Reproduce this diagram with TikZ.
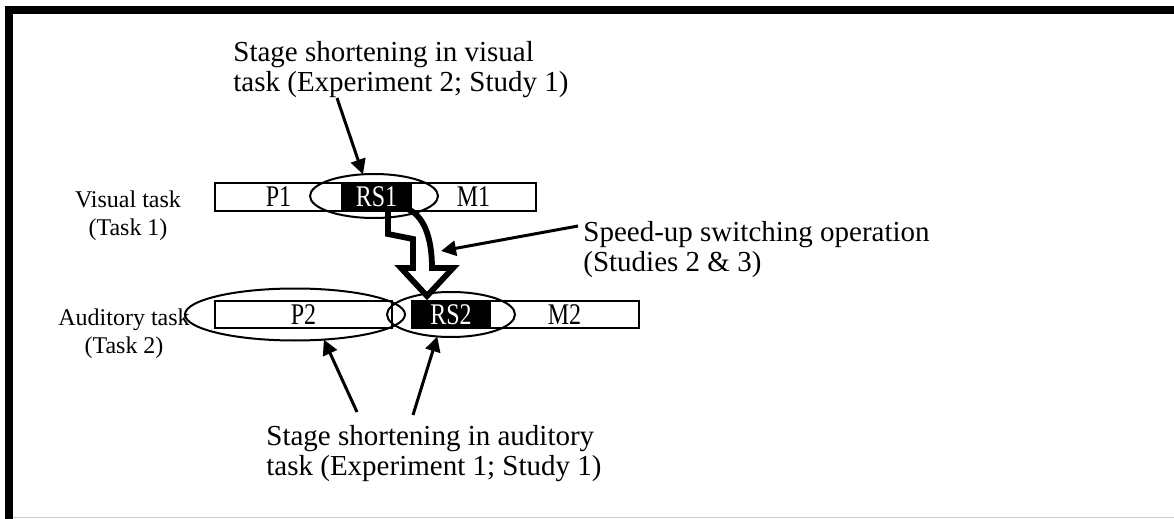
\documentclass[tikz,border=0pt]{standalone}
\usepackage{fontspec}
\usepackage{graphicx}
\setmainfont{Liberation Serif}
\usetikzlibrary{shapes.geometric,arrows.meta}
\newcommand{\tallbox}[1]{\scalebox{1}[1.25]{#1}}
\begin{document}
\begin{tikzpicture}[x=0.5pt,y=-0.5pt,
  stagebox/.style={draw=black,line width=0.9pt,inner sep=0pt,outer sep=0pt,font=\fontsize{12}{14}\selectfont},
  blackbox/.style={stagebox,fill=black,text=white},
  hilite/.style={draw=black,line width=1pt,ellipse,inner sep=0pt,outer sep=0pt},
  pointer/.style={line width=1.5pt,-{Triangle[length=7.5pt,width=7.5pt]}},
  biglabel/.style={anchor=base west,inner sep=0pt,font=\fontsize{14.5}{15}\selectfont},
  tasklabel/.style={anchor=base,inner sep=0pt,font=\fontsize{12}{14}\selectfont},
  hollow/.style={draw=black,fill=white,line width=2.9pt,line join=miter,miter limit=10}]
\useasboundingbox (0,0) rectangle (1174,519);
% frame
\fill[black] (5,6) rectangle (1174,14);
\fill[black] (5,6) rectangle (13,519);
\draw[gray!40,line width=0.75pt] (13,517.5) -- (1174,517.5);

% task labels
\node[tasklabel] (vt) at (128,207) {\begin{tabular}[t]{@{}c@{}}Visual task\\(Task 1)\end{tabular}};
\node[tasklabel] (at) at (124,325) {\begin{tabular}[t]{@{}c@{}}Auditory task\\(Task 2)\end{tabular}};

% hollow switching arrow
\draw[hollow] (388,208) -- (388,234) -- (413,239) -- (413,268) -- (401,268) -- (427,296) -- (453,268) -- (432,268)
  .. controls (432,238) and (424,214) .. (405,208) -- cycle;

% task 1 stages
\node[stagebox,minimum width=63.5pt,minimum height=14pt] (p1) at (278.5,197) {\tallbox{P1}};
\node[blackbox,minimum width=34.5pt,minimum height=14pt] (rs1) at (376.5,197) {\tallbox{RS1}};
\node[stagebox,minimum width=62.5pt,minimum height=14pt] (m1) at (473.5,197) {\tallbox{M1}};

% task 2 stages
\node[stagebox,minimum width=88.5pt,minimum height=13.5pt] (p2) at (303.5,314.5) {\tallbox{P2}};
\node[blackbox,minimum width=39pt,minimum height=13.5pt] (rs2) at (451,314.5) {\tallbox{RS2}};
\node[stagebox,minimum width=74.5pt,minimum height=13.5pt] (m2) at (564.5,314.5) {\tallbox{M2}};

% highlight ellipses
\node[hilite,minimum width=64pt,minimum height=22pt] (e1) at (374,196) {};
\node[hilite,minimum width=110pt,minimum height=26pt] (e2) at (295,314.5) {};
\node[hilite,minimum width=64pt,minimum height=22.5pt] (e3) at (451,314.5) {};

% labels
\node[biglabel] (ltop) at (233,62) {\begin{tabular}[t]{@{}l@{}}Stage shortening in visual\\task (Experiment 2; Study 1)\end{tabular}};
\node[biglabel] (lsw) at (583,242) {\begin{tabular}[t]{@{}l@{}}Speed-up switching operation\\(Studies 2 \& 3)\end{tabular}};
\node[biglabel] (lbot) at (266,445) {\begin{tabular}[t]{@{}l@{}}Stage shortening in auditory\\task (Experiment 1; Study 1)\end{tabular}};

% pointers
\coordinate (t1) at (337,98);
\draw[pointer] (t1) -- (e1.117);
\coordinate (s0) at (578,226);
\coordinate (s1) at (441,251);
\draw[pointer] (s0) -- (s1);
\coordinate (b1) at (357,412);
\draw[pointer] (b1) -- (e2.-41);
\coordinate (b2) at (413,415);
\draw[pointer] (b2) -- (e3.-122);
\end{tikzpicture}
\end{document}
